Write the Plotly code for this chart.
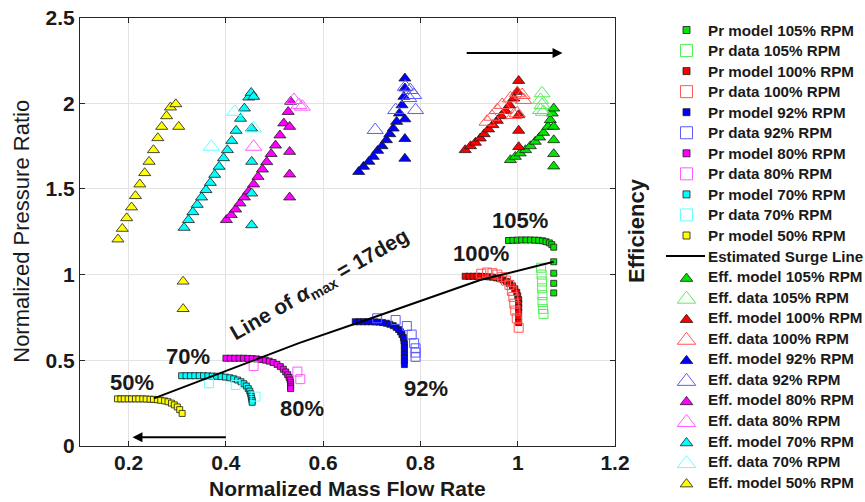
import plotly.graph_objects as go

# ---------------- pressure ratio, model (filled squares) / test data (open squares) ----------------
pr_model_105_x = [0.981, 0.990, 0.999, 1.008, 1.017, 1.026, 1.035, 1.043, 1.051, 1.058, 1.065, 1.070,
                  1.074, 1.074, 1.074, 1.074, 1.074]
pr_model_105_y = [1.199, 1.200, 1.201, 1.202, 1.202, 1.202, 1.201, 1.200, 1.197, 1.192, 1.185, 1.175,
                  1.160, 1.075, 1.008, 0.949, 0.893]
pr_data_105_x = [1.048, 1.049, 1.050, 1.050, 1.051, 1.051, 1.052, 1.053]
pr_data_105_y = [1.040, 1.000, 0.960, 0.920, 0.880, 0.840, 0.800, 0.770]

pr_model_100_x = [0.892, 0.900, 0.908, 0.916, 0.924, 0.932, 0.940, 0.948, 0.956, 0.963, 0.970, 0.977,
                  0.983, 0.989, 0.994, 0.998, 1.000, 1.002, 1.002, 1.002, 1.002, 1.002, 1.002]
pr_model_100_y = [0.990, 0.990, 0.990, 0.990, 0.990, 0.989, 0.987, 0.985, 0.981, 0.976, 0.969, 0.960,
                  0.948, 0.934, 0.917, 0.897, 0.876, 0.854, 0.831, 0.807, 0.783, 0.752, 0.720]
pr_data_100_x = [0.925, 0.937, 0.948, 0.958, 0.968, 0.976, 0.983, 0.988, 0.991, 0.993, 0.995, 0.998, 1.002]
pr_data_100_y = [1.005, 1.012, 1.008, 1.000, 0.985, 0.965, 0.940, 0.905, 0.870, 0.830, 0.790, 0.745, 0.690]

pr_model_92_x = [0.666, 0.674, 0.682, 0.690, 0.698, 0.706, 0.714, 0.722, 0.730, 0.737, 0.744, 0.750,
                 0.755, 0.759, 0.762, 0.765, 0.766, 0.767, 0.767, 0.767, 0.767, 0.767, 0.767, 0.767]
pr_model_92_y = [0.725, 0.725, 0.725, 0.725, 0.725, 0.724, 0.723, 0.720, 0.716, 0.710, 0.702, 0.692,
                 0.680, 0.666, 0.650, 0.633, 0.615, 0.597, 0.578, 0.558, 0.538, 0.518, 0.497, 0.475]
pr_data_92_x = [0.711, 0.749, 0.772, 0.782, 0.787, 0.790, 0.790, 0.790]
pr_data_92_y = [0.745, 0.735, 0.700, 0.650, 0.600, 0.570, 0.545, 0.520]

pr_model_80_x = [0.400, 0.409, 0.418, 0.427, 0.436, 0.445, 0.454, 0.463, 0.472, 0.481, 0.489, 0.497,
                 0.505, 0.512, 0.518, 0.523, 0.527, 0.530, 0.532, 0.533, 0.533, 0.533, 0.533]
pr_model_80_y = [0.512, 0.512, 0.512, 0.512, 0.512, 0.511, 0.510, 0.508, 0.505, 0.501, 0.495, 0.487,
                 0.476, 0.463, 0.448, 0.432, 0.416, 0.400, 0.385, 0.370, 0.357, 0.345, 0.335]
pr_data_80_x = [0.457, 0.547, 0.553]
pr_data_80_y = [0.467, 0.434, 0.390]

pr_model_70_x = [0.309, 0.318, 0.327, 0.336, 0.345, 0.354, 0.363, 0.372, 0.381, 0.390, 0.399, 0.408,
                 0.416, 0.424, 0.431, 0.437, 0.442, 0.446, 0.449, 0.451, 0.452, 0.453, 0.454, 0.454]
pr_model_70_y = [0.410, 0.410, 0.410, 0.410, 0.410, 0.410, 0.409, 0.408, 0.407, 0.405, 0.402, 0.398,
                 0.392, 0.385, 0.375, 0.363, 0.350, 0.335, 0.320, 0.305, 0.290, 0.277, 0.265, 0.255]
pr_data_70_x = [0.365, 0.420, 0.461]
pr_data_70_y = [0.366, 0.356, 0.288]

pr_model_50_x = [0.177, 0.184, 0.191, 0.199, 0.206, 0.214, 0.221, 0.229, 0.236, 0.244, 0.251, 0.259,
                 0.266, 0.274, 0.281, 0.288, 0.294, 0.300, 0.305, 0.310]
pr_model_50_y = [0.275, 0.275, 0.275, 0.275, 0.275, 0.275, 0.275, 0.275, 0.274, 0.273, 0.272, 0.270,
                 0.267, 0.263, 0.258, 0.250, 0.240, 0.228, 0.212, 0.190]

# ---------------- estimated surge line ----------------
surge_x = [0.252, 0.400, 0.550, 0.700, 0.807, 0.923, 1.074]
surge_y = [0.278, 0.436, 0.600, 0.747, 0.852, 0.968, 1.075]

# ---------------- efficiency, model (filled triangles) / test data (open triangles) ----------------
eff_model_105_x = [0.985, 0.995, 1.005, 1.016, 1.026, 1.036, 1.045, 1.053, 1.062, 1.067, 1.071, 1.074,
                   1.074, 1.074, 1.074, 1.074]
eff_model_105_y = [1.669, 1.688, 1.708, 1.727, 1.750, 1.776, 1.801, 1.828, 1.863, 1.902, 1.941, 1.970,
                   1.863, 1.785, 1.704, 1.632]
eff_data_105_x = [1.050, 1.047, 1.050, 1.047, 1.053]
eff_data_105_y = [2.058, 2.019, 1.990, 1.960, 1.950]

eff_model_100_x = [0.892, 0.903, 0.913, 0.923, 0.931, 0.940, 0.949, 0.958, 0.966, 0.975, 0.983, 0.992,
                   0.999, 1.002, 1.002, 1.002, 1.002]
eff_model_100_y = [1.727, 1.750, 1.770, 1.795, 1.820, 1.848, 1.873, 1.898, 1.925, 1.956, 1.989, 2.028,
                   2.067, 2.131, 1.931, 1.840, 1.745]
eff_data_100_x = [0.937, 0.947, 0.958, 0.968, 0.985, 0.999, 1.009, 1.012, 0.999, 0.992]
eff_data_100_y = [1.892, 1.921, 1.960, 1.990, 2.028, 2.058, 2.048, 2.019, 1.941, 1.931]

eff_model_92_x = [0.673, 0.683, 0.694, 0.703, 0.712, 0.721, 0.730, 0.737, 0.744, 0.751, 0.757, 0.762,
                  0.766, 0.768, 0.768, 0.768, 0.768, 0.768]
eff_model_92_y = [1.600, 1.630, 1.659, 1.688, 1.723, 1.750, 1.785, 1.820, 1.853, 1.892, 1.941, 1.989,
                  2.038, 2.087, 2.145, 1.907, 1.792, 1.677]
eff_data_92_x = [0.707, 0.749, 0.769, 0.776, 0.779, 0.786, 0.790]
eff_data_92_y = [1.844, 1.960, 2.096, 2.030, 2.077, 2.048, 1.960]

eff_model_80_x = [0.401, 0.411, 0.420, 0.429, 0.438, 0.447, 0.457, 0.466, 0.475, 0.484, 0.493, 0.502,
                  0.511, 0.519, 0.528, 0.533, 0.531, 0.531, 0.531, 0.531]
eff_model_80_y = [1.319, 1.348, 1.381, 1.416, 1.451, 1.486, 1.527, 1.571, 1.614, 1.657, 1.704, 1.754,
                  1.813, 1.883, 1.950, 2.009, 1.863, 1.717, 1.585, 1.451]
eff_data_80_x = [0.457, 0.540, 0.550, 0.557]
eff_data_80_y = [1.746, 2.019, 1.990, 1.980]

eff_model_70_x = [0.314, 0.323, 0.332, 0.341, 0.350, 0.359, 0.368, 0.377, 0.386, 0.395, 0.403, 0.412,
                  0.421, 0.430, 0.438, 0.447, 0.452, 0.457, 0.453, 0.453, 0.453, 0.453]
eff_model_70_y = [1.274, 1.319, 1.365, 1.408, 1.451, 1.494, 1.536, 1.583, 1.630, 1.680, 1.727, 1.781,
                  1.840, 1.910, 1.970, 2.034, 2.061, 2.038, 1.853, 1.659, 1.474, 1.289]
eff_data_70_x = [0.370, 0.418, 0.457]
eff_data_70_y = [1.746, 1.950, 1.853]

eff_model_50_x = [0.178, 0.187, 0.196, 0.206, 0.214, 0.223, 0.233, 0.242, 0.251, 0.260, 0.268, 0.278,
                  0.286, 0.297, 0.303, 0.312, 0.312]
eff_model_50_y = [1.206, 1.268, 1.330, 1.393, 1.459, 1.527, 1.593, 1.659, 1.727, 1.797, 1.863, 1.925,
                  1.976, 1.995, 1.863, 0.960, 0.800]

# speed-line labels
speed_labels = ["105%", "100%", "92%", "80%", "70%", "50%"]
speed_label_x = [1.005, 0.925, 0.812, 0.557, 0.323, 0.206]
speed_label_y = [1.313, 1.126, 0.338, 0.216, 0.525, 0.368]

x_ticks = [0.2, 0.4, 0.6, 0.8, 1.0, 1.2]
x_tick_text = ["0.2", "0.4", "0.6", "0.8", "1", "1.2"]
y_ticks = [0, 0.5, 1, 1.5, 2, 2.5]
y_tick_text = ["0", "0.5", "1", "1.5", "2", "2.5"]

# ---------------- styling ----------------
FILL = {"105": "#00e600", "100": "#ff0000", "92": "#0000ff", "80": "#ff00ff", "70": "#00ffff", "50": "#ffff00"}
OPEN = {"105": "#55f055", "100": "#ff5555", "92": "#5a5aff", "80": "#ff5cff", "70": "#66ffff"}
EDGE = "#1a1a1a"
FONT = "Liberation Sans, Arial, Helvetica, sans-serif"
INK = "#1a1a1a"

W, H = 865, 502
L, R, T, B = 80, 615, 17.5, 446          # plot-area box (pixels)


def model_sq(c):
    return dict(symbol="square", size=6, color=c, line=dict(color=EDGE, width=0.8))


def data_sq(c):
    return dict(symbol="square-open", size=9, color=c, line=dict(color=c, width=1))


def model_tri(c):
    return dict(symbol="triangle-up", size=10.5, color=c, line=dict(color=EDGE, width=0.8))


def data_tri(c):
    return dict(symbol="triangle-up-open", size=14, color=c, line=dict(color=c, width=1))


series = [
    ("Pr model 105% RPM", pr_model_105_x, pr_model_105_y, model_sq(FILL["105"])),
    ("Pr data 105% RPM", pr_data_105_x, pr_data_105_y, data_sq(OPEN["105"])),
    ("Pr model 100% RPM", pr_model_100_x, pr_model_100_y, model_sq(FILL["100"])),
    ("Pr data 100% RPM", pr_data_100_x, pr_data_100_y, data_sq(OPEN["100"])),
    ("Pr model 92% RPM", pr_model_92_x, pr_model_92_y, model_sq(FILL["92"])),
    ("Pr data 92% RPM", pr_data_92_x, pr_data_92_y, data_sq(OPEN["92"])),
    ("Pr model 80% RPM", pr_model_80_x, pr_model_80_y, model_sq(FILL["80"])),
    ("Pr data 80% RPM", pr_data_80_x, pr_data_80_y, data_sq(OPEN["80"])),
    ("Pr model 70% RPM", pr_model_70_x, pr_model_70_y, model_sq(FILL["70"])),
    ("Pr data 70% RPM", pr_data_70_x, pr_data_70_y, data_sq(OPEN["70"])),
    ("Pr model 50% RPM", pr_model_50_x, pr_model_50_y, model_sq(FILL["50"])),
    ("Estimated Surge Line", surge_x, surge_y, None),
    ("Eff. model 105% RPM", eff_model_105_x, eff_model_105_y, model_tri(FILL["105"])),
    ("Eff. data 105% RPM", eff_data_105_x, eff_data_105_y, data_tri(OPEN["105"])),
    ("Eff. model 100% RPM", eff_model_100_x, eff_model_100_y, model_tri(FILL["100"])),
    ("Eff. data 100% RPM", eff_data_100_x, eff_data_100_y, data_tri(OPEN["100"])),
    ("Eff. model 92% RPM", eff_model_92_x, eff_model_92_y, model_tri(FILL["92"])),
    ("Eff. data 92% RPM", eff_data_92_x, eff_data_92_y, data_tri(OPEN["92"])),
    ("Eff. model 80% RPM", eff_model_80_x, eff_model_80_y, model_tri(FILL["80"])),
    ("Eff. data 80% RPM", eff_data_80_x, eff_data_80_y, data_tri(OPEN["80"])),
    ("Eff. model 70% RPM", eff_model_70_x, eff_model_70_y, model_tri(FILL["70"])),
    ("Eff. data 70% RPM", eff_data_70_x, eff_data_70_y, data_tri(OPEN["70"])),
    ("Eff. model 50% RPM", eff_model_50_x, eff_model_50_y, model_tri(FILL["50"])),
]

fig = go.Figure()
annotations = []

# legend panel drawn on a pixel-scaled overlay axis pair (x2/y2)
LEG_Y0, LEG_DY = 30.0, 20.55
LEG_MX, LEG_TX = 686.5, 706.0

for i, (name, xs, ys, mk) in enumerate(series):
    ly = LEG_Y0 + i * LEG_DY
    if mk is None:
        fig.add_trace(go.Scatter(x=xs, y=ys, mode="lines", name=name, showlegend=False,
                                 line=dict(color="black", width=2)))
        fig.add_trace(go.Scatter(x=[666, 705], y=[ly, ly], mode="lines", xaxis="x2", yaxis="y2",
                                 showlegend=False, hoverinfo="skip", line=dict(color="black", width=2)))
    else:
        fig.add_trace(go.Scatter(x=xs, y=ys, mode="markers", name=name, showlegend=False, marker=mk))
        lm = dict(mk)
        if mk["symbol"] == "square":
            lm["size"] = 7
        elif mk["symbol"] == "square-open":
            lm["size"] = 12
        elif mk["symbol"] == "triangle-up":
            lm["size"] = 11
        else:
            lm["size"] = 16
        fig.add_trace(go.Scatter(x=[LEG_MX], y=[ly + (2 if "triangle" in mk["symbol"] else 0)],
                                 mode="markers", xaxis="x2", yaxis="y2", showlegend=False,
                                 hoverinfo="skip", marker=lm))
    annotations.append(dict(xref="x2", yref="y2", x=LEG_TX, y=ly, text=name, showarrow=False,
                            xanchor="left", yanchor="middle",
                            font=dict(family=FONT, size=15.2, color=INK, weight="bold")))

# speed-line percentage labels
for t, x, y in zip(speed_labels, speed_label_x, speed_label_y):
    annotations.append(dict(x=x, y=y, xref="x", yref="y", text=t, showarrow=False,
                            font=dict(family=FONT, size=22, color=INK, weight="bold")))

# label along the surge line
annotations.append(dict(x=0.594, y=0.939, xref="x", yref="y", textangle=-30, showarrow=False,
                        text="Line of <i>α</i><sub>max</sub> = 17deg",
                        font=dict(family=FONT, size=21, color=INK, weight="bold")))

# direction arrows
annotations.append(dict(x=1.092, y=2.293, ax=0.892, ay=2.293, xref="x", yref="y", axref="x", ayref="y",
                        showarrow=True, arrowhead=2, arrowsize=1.1, arrowwidth=1.8, arrowcolor="black", text=""))
annotations.append(dict(x=0.208, y=0.051, ax=0.403, ay=0.051, xref="x", yref="y", axref="x", ayref="y",
                        showarrow=True, arrowhead=2, arrowsize=1.1, arrowwidth=1.8, arrowcolor="black", text=""))

# axis titles
annotations.append(dict(xref="x2", yref="y2", x=(L + R) / 2, y=488.5, text="Normalized Mass Flow Rate",
                        showarrow=False, xanchor="center", yanchor="middle",
                        font=dict(family=FONT, size=21, color=INK, weight="bold")))
annotations.append(dict(xref="x2", yref="y2", x=22, y=(T + B) / 2, text="Normalized Pressure Ratio",
                        textangle=-90, showarrow=False, xanchor="center", yanchor="middle",
                        font=dict(family=FONT, size=22, color=INK)))
annotations.append(dict(xref="x2", yref="y2", x=636, y=231, text="Efficiency",
                        textangle=-90, showarrow=False, xanchor="center", yanchor="middle",
                        font=dict(family=FONT, size=22, color=INK, weight="bold")))

axis_common = dict(showline=True, linecolor="#262626", linewidth=1, mirror="ticks", ticks="inside",
                   ticklen=5, tickcolor="#262626", showgrid=True, gridcolor="#e3e3e3", gridwidth=1,
                   zeroline=False, automargin=False,
                   tickfont=dict(family=FONT, size=21, color=INK, weight="bold"))

fig.update_layout(
    width=W, height=H, autosize=False, margin=dict(l=0, r=0, t=0, b=0, pad=0, autoexpand=False),
    paper_bgcolor="white", plot_bgcolor="rgba(0,0,0,0)", showlegend=False,
    xaxis=dict(domain=[L / W, R / W], range=[0.1, 1.2], tickvals=x_ticks, ticktext=x_tick_text,
               anchor="y", ticklabelstandoff=-2, **axis_common),
    yaxis=dict(domain=[(H - B) / H, (H - T) / H], range=[0, 2.5], tickvals=y_ticks, ticktext=y_tick_text,
               anchor="x", **axis_common),
    xaxis2=dict(domain=[0, 1], range=[0, W], visible=False, anchor="y2", fixedrange=True, automargin=False),
    yaxis2=dict(domain=[0, 1], range=[H, 0], visible=False, anchor="x2", fixedrange=True, automargin=False),
    annotations=annotations,
)

fig.write_html("out.html", config={"responsive": False, "displayModeBar": False})
